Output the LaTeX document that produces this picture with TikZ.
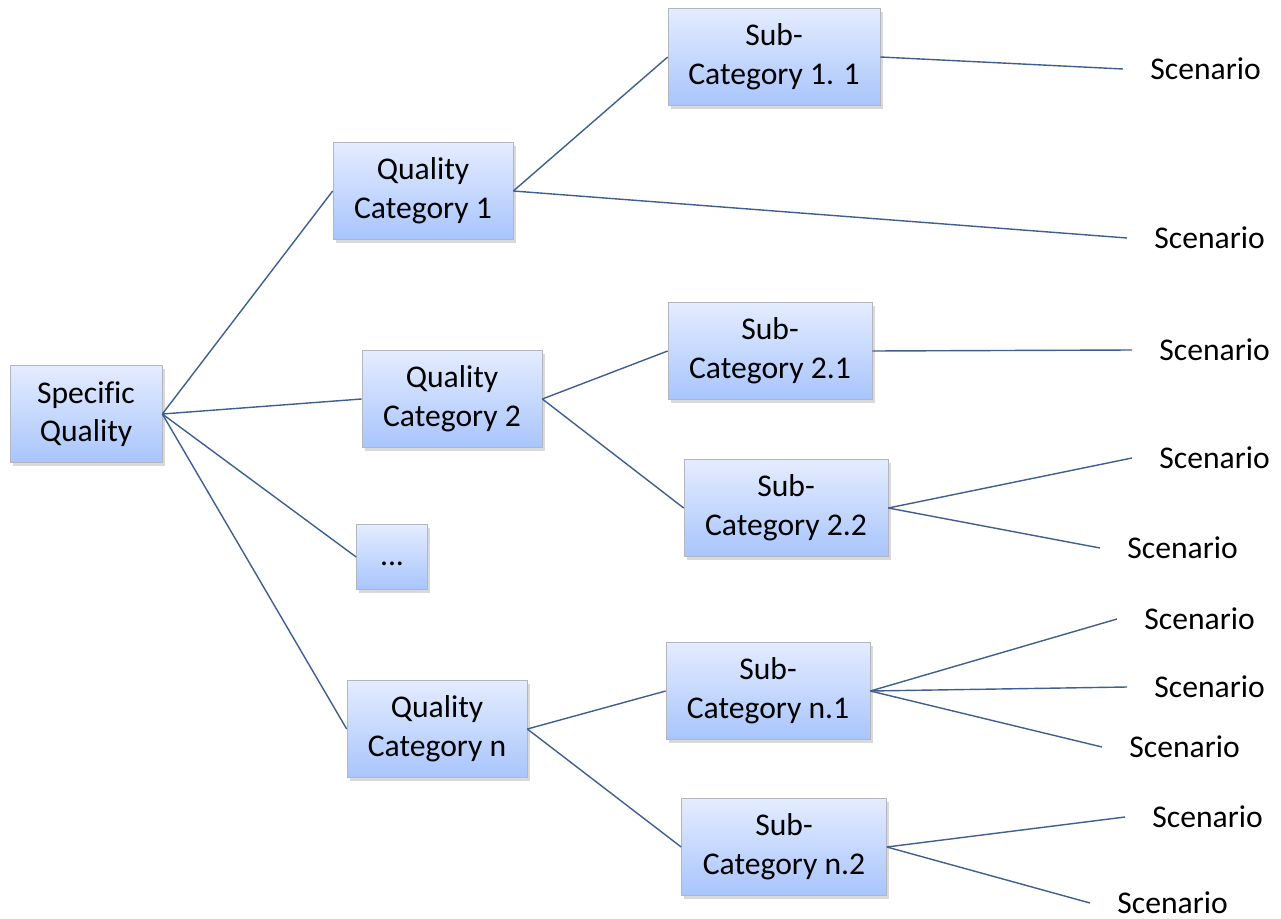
\documentclass[tikz,border=0pt]{standalone}
\usepackage{fontspec}
\setmainfont{Carlito}[Ligatures=CommonOff]
\usetikzlibrary{shadows}
\definecolor{boxTop}{RGB}{228,236,255}
\definecolor{boxBottom}{RGB}{168,197,252}
\definecolor{boxBorder}{RGB}{178,182,192}
\definecolor{branchColor}{RGB}{63,95,143}
\tikzstyle{treeText} = [font=\fontsize{18}{22}\selectfont, align=center]
\tikzstyle{qualityBox} = [treeText, draw=boxBorder, top color=boxTop, bottom color=boxBottom, inner sep=0pt, minimum height=1.94cm, drop shadow={shadow xshift=1.5pt, shadow yshift=-2pt, opacity=0.3}]
\tikzstyle{scenarioText} = [treeText, anchor=west, inner xsep=0.54cm, inner ysep=0pt]
\tikzstyle{branch} = [color=branchColor, line width=0.8pt]

\begin{document}
\begin{tikzpicture}[x = 0.02cm, y = -0.02cm]
  \useasboundingbox (0,0) rectangle (1281,919);

  % boxes
  \node [qualityBox, minimum width=3.04cm] (specificQuality) at (86,414) {Specific\\Quality};
  \node [qualityBox, minimum width=3.6cm] (qualityCat1) at (423,191) {Quality\\Category 1};
  \node [qualityBox, minimum width=3.6cm] (qualityCat2) at (452,399) {Quality\\Category 2};
  \node [qualityBox, minimum width=1.42cm, minimum height=1.3cm, text height=1em, text depth=0pt] (qualityCatDots) at (392,557) {...};
  \node [qualityBox, minimum width=3.6cm] (qualityCatN) at (437,729) {Quality\\Category n};

  \node [qualityBox, minimum width=4.24cm] (subCat11) at (774,57) {Sub-\\Category 1. 1};
  \node [qualityBox, minimum width=4.08cm] (subCat21) at (770,351) {Sub-\\Category 2.1};
  \node [qualityBox, minimum width=4.08cm] (subCat22) at (786,508) {Sub-\\Category 2.2};
  \node [qualityBox, minimum width=4.08cm] (subCatN1) at (768,691) {Sub-\\Category n.1};
  \node [qualityBox, minimum width=4.1cm] (subCatN2) at (784,847) {Sub-\\Category n.2};

  % scenarios
  \node [scenarioText] (scenario1) at (1123,69) {Scenario};
  \node [scenarioText] (scenario2) at (1127,238) {Scenario};
  \node [scenarioText] (scenario3) at (1132,350) {Scenario};
  \node [scenarioText] (scenario4) at (1132,458) {Scenario};
  \node [scenarioText] (scenario5) at (1100,548) {Scenario};
  \node [scenarioText] (scenario6) at (1117,619) {Scenario};
  \node [scenarioText] (scenario7) at (1127,687) {Scenario};
  \node [scenarioText] (scenario8) at (1102,747) {Scenario};
  \node [scenarioText] (scenario9) at (1125,817) {Scenario};
  \node [scenarioText] (scenario10) at (1090,903) {Scenario};

  % branches
  \foreach \target in {qualityCat1, qualityCat2, qualityCatDots, qualityCatN}
    \draw [branch] (specificQuality.east) -- (\target.west);
  \draw [branch] (qualityCat1.east) -- (subCat11.west);
  \draw [branch] (qualityCat1.east) -- (scenario2.west);
  \draw [branch] (subCat11.east) -- (scenario1.west);
  \draw [branch] (qualityCat2.east) -- (subCat21.west);
  \draw [branch] (qualityCat2.east) -- (subCat22.west);
  \draw [branch] (subCat21.east) -- (scenario3.west);
  \draw [branch] (subCat22.east) -- (scenario4.west);
  \draw [branch] (subCat22.east) -- (scenario5.west);
  \draw [branch] (qualityCatN.east) -- (subCatN1.west);
  \draw [branch] (qualityCatN.east) -- (subCatN2.west);
  \foreach \target in {scenario6, scenario7, scenario8}
    \draw [branch] (subCatN1.east) -- (\target.west);
  \foreach \target in {scenario9, scenario10}
    \draw [branch] (subCatN2.east) -- (\target.west);
\end{tikzpicture}
\end{document}
